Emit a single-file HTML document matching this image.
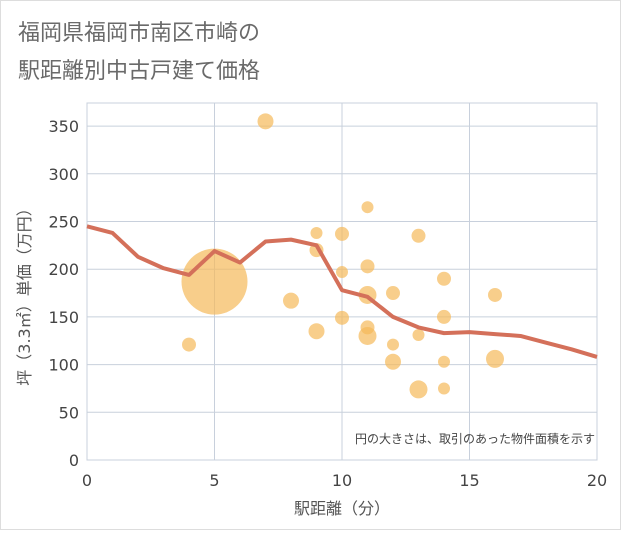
<!DOCTYPE html>
<html><head><meta charset="utf-8"><style>
body{margin:0;background:#fff;font-family:"Liberation Sans","Noto Sans CJK JP",sans-serif;}
</style></head><body>
<svg id="c" width="621" height="530" xmlns="http://www.w3.org/2000/svg" style="font-family:'Liberation Sans','Noto Sans CJK JP',sans-serif">
<rect x="0.5" y="0.5" width="620" height="529" fill="#fff" stroke="#ddd"/>
<text x="18" y="40" font-size="22" fill="#6a6a6a">福岡県福岡市南区市崎の</text>
<text x="18" y="78" font-size="22" fill="#6a6a6a">駅距離別中古戸建て価格</text>
<g id="grid"></g><g id="bubbles"></g><g id="line"></g><g id="axes"></g>
<text x="595" y="443" font-size="12" fill="#444" text-anchor="end">円の大きさは、取引のあった物件面積を示す</text>
<text x="342" y="514" font-size="16" fill="#555" text-anchor="middle" style="font-family:'DejaVu Sans','Noto Sans CJK JP',sans-serif">駅距離（分）</text>
<text transform="translate(30,293) rotate(-90)" font-size="16" fill="#555" text-anchor="middle" style="font-family:'DejaVu Sans','Noto Sans CJK JP',sans-serif">坪（3.3㎡）単価（万円）</text>
</svg>
<script>
const xTicks=[0,5,10,15,20];
const yTicks=[0,50,100,150,200,250,300,350];
const lineX=[0,1,2,3,4,5,6,7,8,9,10,11,12,13,14,15,16,17,18,19,20];
const lineY=[245,238,213,201,194,219,207,229,231,225,178,171,150,139,133,134,132,130,123,116,108];
const bubX=[7,5,4,8,9,9,9,10,10,10,11,11,11,11,11,12,12,12,13,13,13,14,14,14,14,16,16];
const bubY=[355,187,121,167,238,220,135,237,197,149,265,203,173,139,130,175,121,103,235,131,74,190,150,103,75,173,106];
const bubR=[8,33,7,8,6,7,8,7,6,7,6,7,9,7,9,7,6,8,7,6,9,7,7,6,6,7,9];
const ns="http://www.w3.org/2000/svg";
const X0=87,X1=597,Y0=460,Ytop=103;
const sx=v=>X0+(X1-X0)*v/20;
const sy=v=>Y0-v*0.954;
function mk(t,a,p){const e=document.createElementNS(ns,t);for(const k in a)e.setAttribute(k,a[k]);p.appendChild(e);return e;}
const g=document.getElementById('grid'),ax=document.getElementById('axes');
const tf="'DejaVu Sans',sans-serif";
xTicks.forEach(v=>{const l=mk('line',{x1:sx(v),x2:sx(v),y1:Ytop,y2:Y0,stroke:'#c8d0dc','stroke-width':1},g);

const t=mk('text',{x:sx(v),y:486,'font-size':16,fill:'#444','text-anchor':'middle','font-family':tf},ax);t.textContent=v;
});
yTicks.forEach(v=>{const l=mk('line',{x1:X0,x2:X1,y1:sy(v),y2:sy(v),stroke:'#c8d0dc','stroke-width':1},g);

const t=mk('text',{x:79,y:sy(v)+6,'font-size':16,fill:'#444','text-anchor':'end','font-family':tf},ax);t.textContent=v;
});
const fr=mk('rect',{x:X0,y:Ytop,width:X1-X0,height:Y0-Ytop,fill:'none',stroke:'#c8d0dc'},g);

const bg=document.getElementById('bubbles');
bubX.forEach((v,i)=>{const c=mk('circle',{cx:sx(v),cy:sy(bubY[i]),r:bubR[i],fill:'#f5b95a','fill-opacity':0.7},bg);
});
const pts=lineX.map((v,i)=>sx(v)+','+sy(lineY[i])).join(' ');
const pl=mk('polyline',{points:pts,fill:'none',stroke:'#d4705a','stroke-width':4,'stroke-linejoin':'round'},document.getElementById('line'));

</script>
</body></html>
